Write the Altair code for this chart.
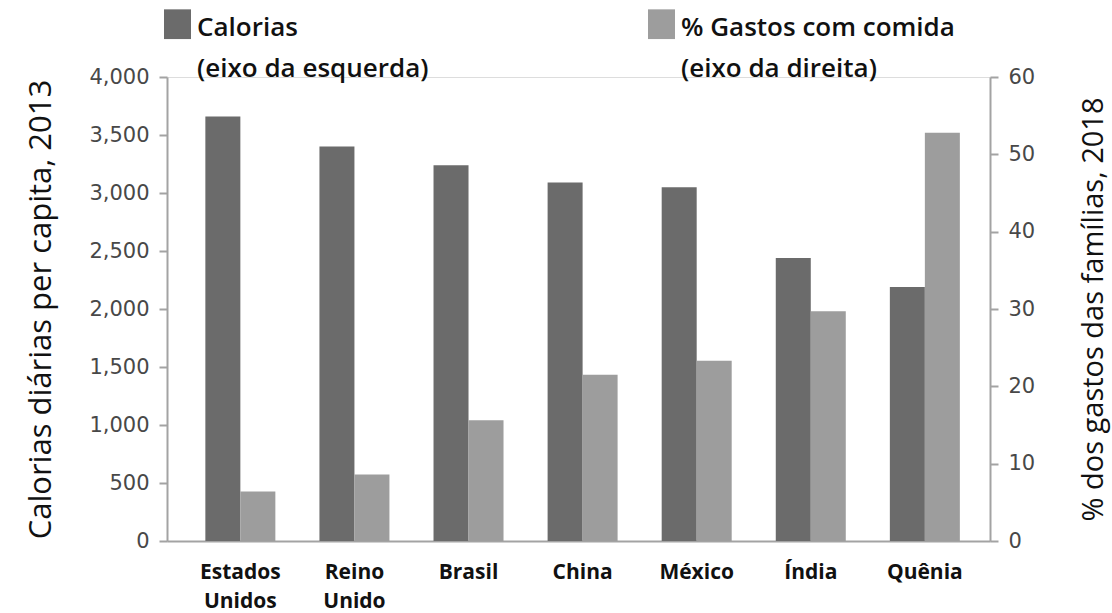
import altair as alt
import pandas as pd

# Daily calories per capita (2013) vs. share of household spending on food (2018)
paises = ["Estados Unidos", "Reino Unido", "Brasil", "China", "México", "Índia", "Quênia"]
calorias = [3660, 3400, 3240, 3090, 3050, 2440, 2190]
gastos = [6.4, 8.6, 15.6, 21.5, 23.3, 29.7, 52.8]

series = ["Calorias", "% Gastos com comida"]
notas = ["(eixo da esquerda)", "(eixo da direita)"]
cores = ["#6b6b6b", "#9d9d9d"]

cal_ticks = [0, 500, 1000, 1500, 2000, 2500, 3000, 3500, 4000]
pct_ticks = [0, 10, 20, 30, 40, 50, 60]

df = pd.DataFrame({"pais": paises, "calorias": calorias, "gastos": gastos})

AXIS_GRAY = "#a3a3a3"
W, H = 823, 464

x_enc = alt.X(
    "pais:N",
    sort=paises,
    title=None,
    scale=alt.Scale(paddingInner=0.386, paddingOuter=0.3, align=0.56),
    axis=alt.Axis(
        labelExpr="split(datum.label, ' ')",
        labelAngle=0,
        ticks=False,
        labelPadding=20,
        labelBaseline="top",
        labelFont="Open Sans",
        labelFontWeight="bold",
        labelFontSize=21,
        labelColor="#111111",
        labelLineHeight=29,
        domainColor=AXIS_GRAY,
        domainWidth=2,
    ),
)

legend_label = (
    f"datum.label == '{series[0]}' ? ['{series[0]}', '{notas[0]}'] "
    f": ['{series[1]}', '{notas[1]}']"
)

# square-ish swatch sitting slightly below its anchor so it lines up with the first text line
swatch = "M-1,-0.4L1,-0.4L1,1.8L-1,1.8Z"

color_enc = alt.Color(
    "serie:N",
    scale=alt.Scale(domain=series, range=cores),
    legend=alt.Legend(
        title=None,
        orient="none",
        direction="horizontal",
        legendX=-4,
        legendY=-77,
        symbolType=swatch,
        symbolSize=730,
        symbolFillColor=cores[0],
        labelFont="Open Sans",
        labelFontSize=26,
        labelFontWeight=600,
        labelColor="#111111",
        labelExpr=legend_label,
        labelOffset=5,
        labelLimit=500,
        labelBaseline="top",
        columnPadding=218,
    ),
)

def y_axis(orient, ticks, fmt, title, title_x, title_size):
    return alt.Axis(
        orient=orient,
        values=ticks,
        format=fmt,
        grid=False,
        tickSize=8,
        tickWidth=2,
        tickColor=AXIS_GRAY,
        domainColor=AXIS_GRAY,
        domainWidth=2,
        labelFont="DejaVu Sans",
        labelFontSize=21,
        labelColor="#484848",
        labelPadding=10,
        title=title,
        titleFont="Open Sans",
        titleFontSize=title_size,
        titleFontWeight="normal",
        titleColor="#111111",
        titleAngle=270,
        titleAlign="center",
        titleBaseline="middle",
        titleX=title_x,
        titleY=H / 2,
    )

bars_cal = alt.Chart(df).transform_calculate(
    serie=f"'{series[0]}'"
).mark_bar(width=35, xOffset=-17.5).encode(
    x=x_enc,
    y=alt.Y(
        "calorias:Q",
        scale=alt.Scale(domain=[0, 4000], nice=False),
        axis=y_axis("left", cal_ticks, ",.0f", "Calorias diárias per capita, 2013", -126, 31),
    ),
    color=color_enc,
)

bars_pct = alt.Chart(df).transform_calculate(
    serie=f"'{series[1]}'"
).mark_bar(width=35, xOffset=17.5).encode(
    x=x_enc,
    y=alt.Y(
        "gastos:Q",
        scale=alt.Scale(domain=[0, 60], nice=False),
        axis=y_axis("right", pct_ticks, "d", "% dos gastos das  famílias, 2018", 103, 29),
    ),
    color=color_enc,
)

chart = (
    alt.layer(bars_cal, bars_pct)
    .resolve_scale(y="independent")
    .properties(
        width=W,
        height=H,
        autosize=alt.AutoSizeParams(type="none"),
        padding={"left": 167, "top": 77, "right": 122, "bottom": 72},
        background="white",
    )
    .configure_view(stroke=None)
    .configure(style={"guide-label": {"lineHeight": 41}})
)

chart.save("out.html", embed_options={"renderer": "svg", "actions": False})
